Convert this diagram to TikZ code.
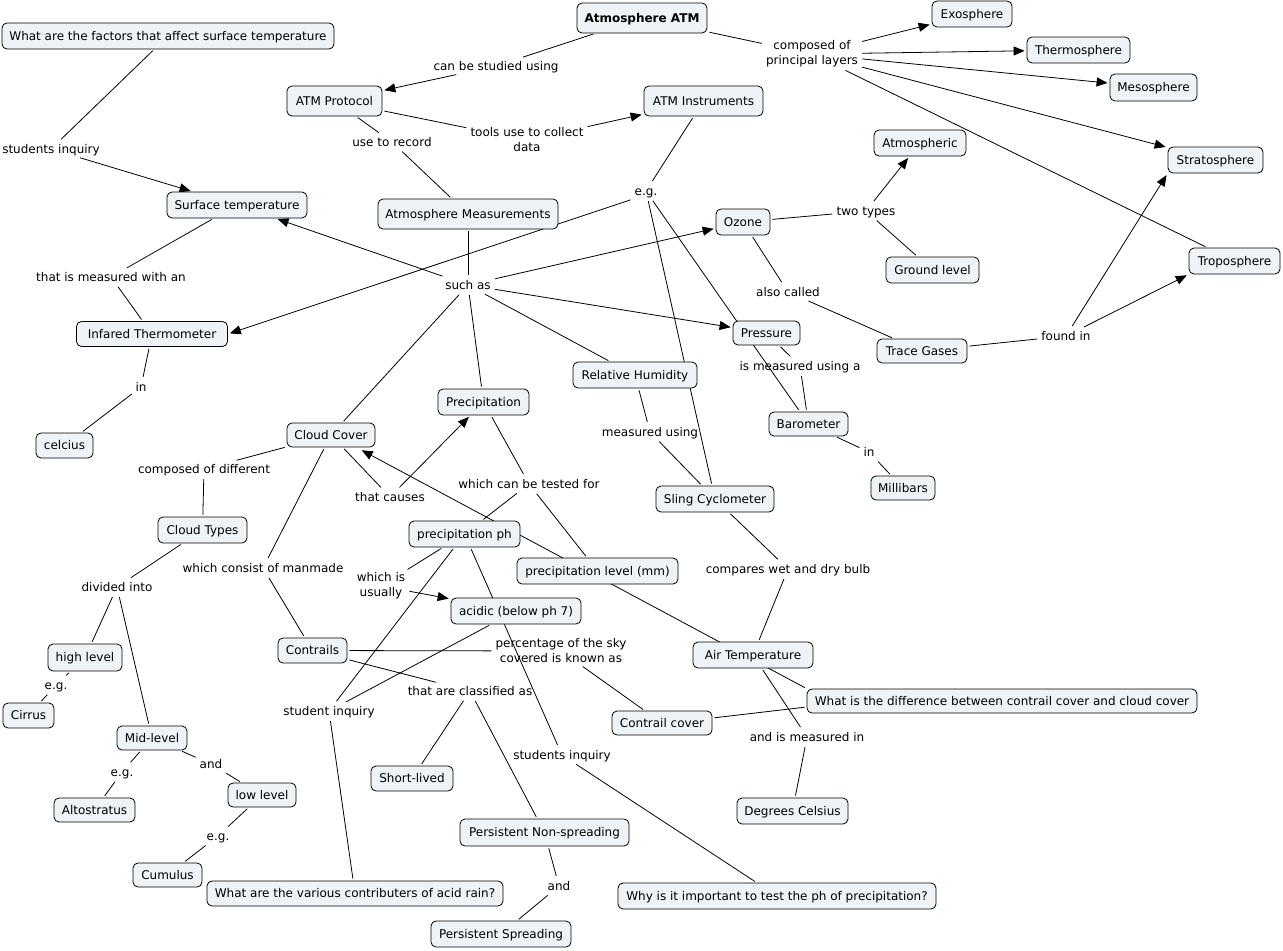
\documentclass[tikz,border=0pt]{standalone}
\usepackage{fontspec}
\setmainfont{DejaVu Sans}
\usetikzlibrary{arrows.meta,calc}
\pgfdeclarelayer{bg}
\pgfsetlayers{bg,main}
\definecolor{cfill}{RGB}{237,243,246}
\newcommand\mkcpt[5]{\node[concept,minimum width=#4bp,minimum height=#5bp] (#1) at (#2) {#3};}
\newcommand\mklbl[3]{\node[lbl] (#1) at (#2) {#3};}
\newcommand\mklbltwo[3]{\node[lbltwo] (#1) at (#2) {#3};}
\begin{document}
\begin{tikzpicture}[x=1bp,y=-1bp,
  concept/.style={draw=black, fill=cfill, rounded corners=5bp, line width=0.8bp, inner sep=0pt, text height=10bp, text depth=2bp, font=\fontsize{12bp}{15bp}\selectfont},
  lbl/.style={inner sep=2bp, text height=10bp, text depth=2bp, font=\fontsize{12bp}{15bp}\selectfont},
  lbltwo/.style={inner sep=2bp, align=center, font=\fontsize{12bp}{15bp}\selectfont},
  conn/.style={line width=0.8bp, shorten <=2bp, shorten >=2bp},
  arr/.style={conn, -{Triangle[length=11bp,width=9bp]}},
]
\useasboundingbox (0,0) rectangle (1283,951);
% concepts
\mkcpt{atm}{642,18}{\bfseries Atmosphere ATM}{130}{30}
\mkcpt{factors}{168,36}{What are the factors that affect surface temperature}{332}{26}
\mkcpt{protocol}{334.5,101}{ATM Protocol}{95}{30}
\mkcpt{instr}{703.5,101}{ATM Instruments}{119}{30}
\mkcpt{exo}{972,14}{Exosphere}{80}{26}
\mkcpt{thermo}{1078.5,50}{Thermosphere}{103}{26}
\mkcpt{meso}{1153.5,87.5}{Mesosphere}{87}{27}
\mkcpt{strato}{1215.5,160}{Stratosphere}{95}{26}
\mkcpt{tropo}{1234.5,261}{Troposphere}{91}{26}
\mkcpt{atmospheric}{920,143}{Atmospheric}{92}{26}
\mkcpt{ground}{932.5,270}{Ground level}{93}{26}
\mkcpt{ozone}{743,222}{Ozone}{54}{26}
\mkcpt{trace}{922,351}{Trace Gases}{90}{24}
\mkcpt{surf}{237,205}{Surface temperature}{140}{26}
\mkcpt{meas}{468,214}{Atmosphere Measurements}{180}{30}
\mkcpt{infra}{152,334}{Infared Thermometer}{151}{25}
\mkcpt{celcius}{64.5,445.5}{celcius}{57}{25}
\mkcpt{pressure}{766.5,333}{Pressure}{67}{24}
\mkcpt{rh}{635,375}{Relative Humidity}{124}{26}
\mkcpt{precip}{483.5,402}{Precipitation}{91}{26}
\mkcpt{cloud}{331,435}{Cloud Cover}{88}{24}
\mkcpt{baro}{808.5,424}{Barometer}{79}{24}
\mkcpt{milli}{903,488}{Millibars}{64}{24}
\mkcpt{sling}{715,499}{Sling Cyclometer}{118}{26}
\mkcpt{ctypes}{202.5,530}{Cloud Types}{89}{26}
\mkcpt{pph}{464.5,534}{precipitation ph}{111}{26}
\mkcpt{plevel}{597.5,571}{precipitation level (mm)}{161}{26}
\mkcpt{acidic}{516,611}{acidic (below ph 7)}{130}{26}
\mkcpt{contrails}{312.5,650.5}{Contrails}{69}{25}
\mkcpt{airt}{753,655}{Air Temperature}{120}{26}
\mkcpt{high}{85,657.5}{high level}{74}{27}
\mkcpt{cirrus}{28.5,715.5}{Cirrus}{51}{25}
\mkcpt{mid}{152,738}{Mid-level}{70}{24}
\mkcpt{ccover}{662,723}{Contrail cover}{100}{24}
\mkcpt{whatdiff}{1002,701}{What is the difference between contrail cover and cloud cover}{390}{24}
\mkcpt{short}{412,778.5}{Short-lived}{82}{25}
\mkcpt{alto}{94.5,810}{Altostratus}{81}{24}
\mkcpt{low}{262,795}{low level}{68}{24}
\mkcpt{degc}{792.5,811}{Degrees Celsius}{111}{26}
\mkcpt{pns}{544.5,832.5}{Persistent Non-spreading}{169}{27}
\mkcpt{cumulus}{167.5,875}{Cumulus}{69}{24}
\mkcpt{acidq}{355,893.5}{What are the various contributers of acid rain?}{296}{25}
\mkcpt{whyq}{777,896}{Why is it important to test the ph of precipitation?}{318}{26}
\mkcpt{pspread}{501,934}{Persistent Spreading}{140}{26}
% linking phrases
\mklbl{l_study}{496,66}{can be studied using}
\mklbltwo{l_comp}{812,54}{composed of\\principal layers}
\mklbltwo{l_tools}{527,140}{tools use to collect\\data}
\mklbl{l_record}{392,142}{use to record}
\mklbl{l_eg}{646,191}{e.g.}
\mklbl{l_si1}{51,149}{students inquiry}
\mklbl{l_such}{468,285}{such as}
\mklbl{l_twotypes}{866,211}{two types}
\mklbl{l_measwith}{111,277}{that is measured with an}
\mklbl{l_also}{788,292}{also called}
\mklbl{l_found}{1066,336}{found in}
\mklbl{l_in1}{141,387}{in}
\mklbl{l_isusing}{800,366}{is measured using a}
\mklbl{l_measusing}{650,432}{measured using}
\mklbl{l_in2}{869,452}{in}
\mklbl{l_compdiff}{204,469}{composed of different}
\mklbl{l_causes}{390,497}{that causes}
\mklbl{l_tested}{529,484}{which can be tested for}
\mklbl{l_compares}{788,569}{compares wet and dry bulb}
\mklbl{l_manmade}{263,568}{which consist of manmade}
\mklbltwo{l_usually}{381,586}{which is\\usually}
\mklbl{l_divided}{117,587}{divided into}
\mklbltwo{l_pct}{561,651}{percentage of the sky\\covered is known as}
\mklbl{l_eg2}{56,685}{e.g.}
\mklbl{l_classified}{470,691}{that are classified as}
\mklbl{l_si2}{329,711}{student inquiry}
\mklbl{l_and1}{211,764}{and}
\mklbl{l_eg3}{122,772}{e.g.}
\mklbl{l_andmeas}{807,737}{and is measured in}
\mklbl{l_si3}{562,755}{students inquiry}
\mklbl{l_eg4}{218,836}{e.g.}
\mklbl{l_and2}{559,886}{and}
\begin{pgfonlayer}{bg}
\fill[white] (0,0) rectangle (1283,951);
\draw[conn] (atm) -- (l_study);
\draw[arr] (l_study) -- (protocol);
\draw[conn] (atm) -- (l_comp);
\draw[arr] (l_comp) -- (exo);
\draw[arr] (l_comp) -- (thermo);
\draw[arr] (l_comp) -- (meso);
\draw[arr] (l_comp) -- (strato);
\draw[conn] (l_comp) -- (tropo);
\draw[conn] (protocol) -- (l_tools);
\draw[arr] (l_tools) -- (instr);
\draw[conn] (protocol) -- (l_record);
\draw[conn] (l_record) -- (meas);
\draw[conn] (instr) -- (l_eg);
\draw[arr] (l_eg.south west) -- (infra.east);
\draw[conn] (l_eg) -- (baro);
\draw[conn] (l_eg) -- (sling);
\draw[conn] (factors) -- (l_si1);
\draw[arr] (l_si1) -- (surf);
\draw[conn] (meas) -- (l_such);
\draw[arr] (l_such) -- (surf);
\draw[arr] (l_such) -- (ozone);
\draw[arr] (l_such) -- (pressure);
\draw[conn] (l_such) -- (rh);
\draw[conn] (l_such) -- (precip);
\draw[conn] (l_such) -- (cloud);
\draw[conn] (surf) -- (l_measwith);
\draw[conn] (l_measwith) -- (infra);
\draw[conn] (infra) -- (l_in1);
\draw[conn] (l_in1) -- (celcius);
\draw[conn] (ozone) -- (l_twotypes);
\draw[arr] (l_twotypes) -- (atmospheric);
\draw[conn] (l_twotypes) -- (ground);
\draw[conn] (ozone) -- (l_also);
\draw[conn] (l_also) -- (trace);
\draw[conn] (trace) -- (l_found);
\draw[arr] (l_found) -- (strato.south west);
\draw[arr] (l_found) -- (tropo.south west);
\draw[conn] (pressure) -- (l_isusing);
\draw[conn] (l_isusing) -- (baro);
\draw[conn] (baro) -- (l_in2);
\draw[conn] (l_in2) -- (milli);
\draw[conn] (rh) -- (l_measusing);
\draw[conn] (l_measusing) -- (sling);
\draw[conn] (cloud) -- (l_compdiff);
\draw[conn] (l_compdiff) -- (ctypes);
\draw[conn] (ctypes) -- (l_divided);
\draw[conn] (l_divided) -- (high);
\draw[conn] (l_divided) -- (mid);
\draw[conn] (high) -- (l_eg2);
\draw[conn] (l_eg2) -- (cirrus);
\draw[conn] (mid) -- (l_eg3);
\draw[conn] (l_eg3) -- (alto);
\draw[conn] (mid) -- (l_and1);
\draw[conn] (l_and1) -- (low);
\draw[conn] (low) -- (l_eg4);
\draw[conn] (l_eg4) -- (cumulus);
\draw[conn] (cloud) -- (l_causes);
\draw[arr] (l_causes) -- (precip);
\draw[conn] (precip) -- (l_tested);
\draw[conn] (l_tested) -- (pph);
\draw[conn] (l_tested) -- (plevel);
\draw[conn] (pph) -- (l_usually);
\draw[arr] (l_usually) -- (acidic);
\draw[conn] (cloud) -- (l_manmade);
\draw[conn] (l_manmade) -- (contrails);
\draw[conn] (contrails) -- (l_pct);
\draw[conn] (l_pct) -- (ccover);
\draw[conn] (contrails) -- (l_classified);
\draw[conn] (l_classified) -- (short);
\draw[conn] (l_classified) -- (pns);
\draw[conn] (pph) -- (l_si2);
\draw[conn] (acidic) -- (l_si2);
\draw[conn] (l_si2) -- (acidq);
\draw[conn] (pph) -- (l_si3);
\draw[conn] (l_si3) -- (whyq);
\draw[conn] (sling) -- (l_compares);
\draw[conn] (l_compares) -- (airt);
\draw[conn] (airt) -- (l_andmeas);
\draw[conn] (l_andmeas) -- (degc);
\draw[arr, shorten >=6bp] (whatdiff.north west) -- (cloud.-26);
\draw[conn] ($(ccover.east)+(0,-5)$) -- ($(whatdiff.west)+(0,6)$);
\draw[conn] (pns) -- (l_and2);
\draw[conn] (l_and2) -- (pspread);
\end{pgfonlayer}
\end{tikzpicture}
\end{document}
